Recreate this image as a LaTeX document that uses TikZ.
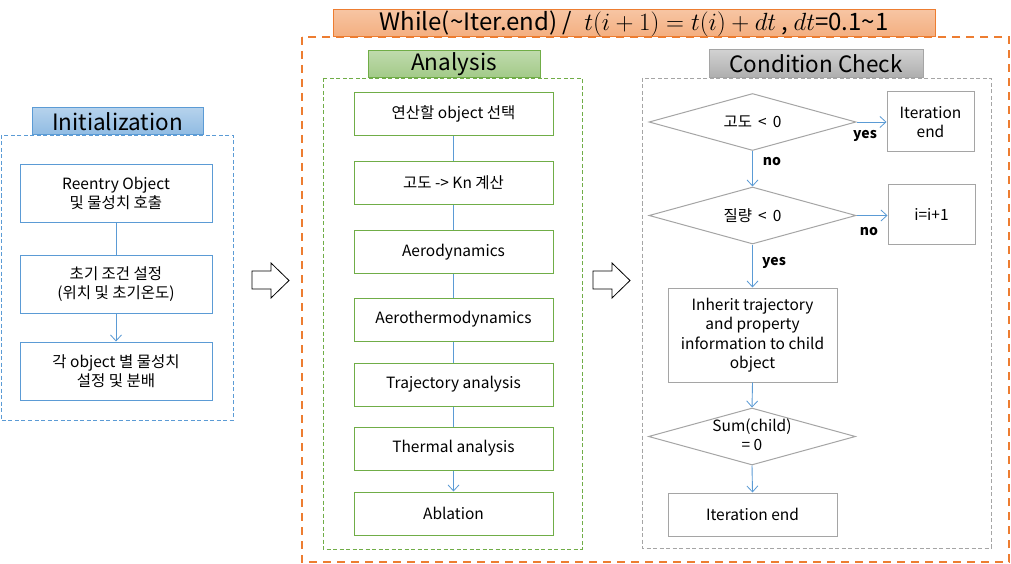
\documentclass[tikz,border=0pt]{standalone}
\usepackage{fontspec}
\setmainfont{Noto Sans CJK KR}
\usetikzlibrary{shapes.geometric,arrows.meta}
\definecolor{cblue}{HTML}{5B9BD5}
\definecolor{cgreen}{HTML}{70AD47}
\definecolor{cgray}{HTML}{A5A5A5}
\definecolor{corange}{HTML}{ED7D31}
\tikzset{
  conn/.style={draw=cblue, line width=0.9pt},
  arr/.style={conn, -{Straight Barb[length=6pt,width=11pt,line width=0.8pt]}},
  txt/.style={font=\fontsize{15.5}{19.5}\selectfont, align=center, text=black},
  ibox/.style={txt, draw=cblue, line width=1pt, fill=white, inner sep=0pt},
  abox/.style={txt, draw=cgreen, line width=1pt, fill=white, inner sep=0pt, minimum width=199pt, minimum height=43pt},
  cbox/.style={txt, draw=cgray, line width=1pt, fill=white, inner sep=0pt},
  dia/.style={draw=cgray, line width=1pt, shape=diamond, fill=white, inner sep=0pt, minimum width=207pt, minimum height=57pt},
  ttl/.style={font=\fontsize{22.5}{26}\selectfont, inner sep=0pt, text=black},
  lab/.style={font=\fontsize{14}{16}\selectfont\bfseries, text=black},
  frm/.style={line width=0.9pt, dash pattern=on 4pt off 2.5pt},
  blockarrow/.style={draw=black, line width=0.8pt, fill=white}
}
\begin{document}
\begin{tikzpicture}[x=1pt,y=-1pt]
\useasboundingbox (0,0) rectangle (1011,564);
\fill[white] (0,0) rectangle (1011,564);

% outer loop frame
\draw[corange, line width=2.5pt, dash pattern=on 8pt off 6pt] (302,37) rectangle (1009,562);
\node[ttl, font=\fontsize{24}{26}\selectfont, draw=corange, line width=1pt, top color=corange!45, bottom color=corange!62, minimum width=602pt, minimum height=27pt] (wt) at (634,23.5)
  {While(\textasciitilde Iter.end) /\enspace $t(i+1)=t(i)+dt$ , $dt$=0.1\textasciitilde1};

% Initialization
\draw[cblue, frm] (1,135) rectangle (233,420);
\node[ttl, draw=cblue, line width=1pt, top color=cblue!45, bottom color=cblue!68, minimum width=171pt, minimum height=27pt] (it) at (117.5,121.5) {Initialization};
\node[ibox, minimum width=192pt, minimum height=57pt] (i1) at (116,193.5) {Reentry Object\\및 물성치 호출};
\node[ibox, minimum width=192pt, minimum height=58pt] (i2) at (116,284) {초기 조건 설정\\(위치 및 초기온도)};
\node[ibox, minimum width=192pt, minimum height=58pt] (i3) at (116,371) {각 object 별 물성치\\설정 및 분배};
\draw[conn] (i1) -- (i2);
\draw[arr] (i2) -- (i3);

% block arrows
\draw[blockarrow] (252,271) -- (271,271) -- (271,263) -- (289,280.5) -- (271,298) -- (271,289) -- (252,289) -- cycle;
\draw[blockarrow] (593,271) -- (612,271) -- (612,263) -- (630,280.5) -- (612,298) -- (612,289) -- (593,289) -- cycle;

% Analysis
\draw[cgreen, frm] (323,78) rectangle (582,549);
\node[ttl, draw=cgreen, line width=1pt, top color=cgreen!45, bottom color=cgreen!65, minimum width=172pt, minimum height=27pt] (at) at (454,64.5) {Analysis};
\node[abox] (a1) at (453.5,114) {연산할 object 선택};
\node[abox] (a2) at (453.5,183) {고도 -> Kn 계산};
\node[abox] (a3) at (453.5,252) {Aerodynamics};
\node[abox] (a4) at (453.5,319.5) {Aerothermodynamics};
\node[abox] (a5) at (453.5,384.5) {Trajectory analysis};
\node[abox] (a6) at (453.5,448.5) {Thermal analysis};
\node[abox] (a7) at (453.5,513.5) {Ablation};
\draw[conn] (a1) -- (a2);
\draw[conn] (a2) -- (a3);
\draw[conn] (a3) -- (a4);
\draw[conn] (a4) -- (a5);
\draw[conn] (a5) -- (a6);
\draw[arr] (a6) -- (a7);

% Condition Check
\draw[cgray, frm] (642,78) rectangle (991,548);
\node[ttl, draw=cgray, line width=1pt, top color=black!18, bottom color=black!32, minimum width=214pt, minimum height=28pt] (ct) at (816,64) {Condition Check};
\node[dia] (d1) at (752.5,122) {};
\node[txt] (d1t) at (d1) {고도 \,<\, 0};
\node[cbox, minimum width=87pt, minimum height=60pt] (e1) at (930.5,122) {Iteration\\end};
\node[dia] (d2) at (752.5,215.5) {};
\node[txt] (d2t) at (d2) {질량 \,<\, 0};
\node[cbox, minimum width=87pt, minimum height=59pt] (inc) at (931.5,214.5) {i=i+1};
\node[cbox, minimum width=169pt, minimum height=94pt] (inh) at (752.5,335) {Inherit trajectory\\and property\\information to child\\object};
\node[dia] (d3) at (752,436.5) {};
\node[txt] (d3t) at (752,435) {Sum(child)\\= 0};
\node[cbox, minimum width=169pt, minimum height=43pt] (e2) at (752.5,514.5) {Iteration end};
\draw[arr] (d1.east) -- (d1.east -| e1.west);
\draw[arr] (d1.south) -- (d2.north);
\draw[arr] (d2.east) -- (d2.east -| inc.west);
\draw[arr] (d2.south) -- (inh.north);
\draw[arr] (inh.south) -- (d3.north);
\draw[arr] (d3.south) -- (e2.north);
\node[lab] (ly1) at (865,136) {yes};
\node[lab] (ln1) at (772,162) {no};
\node[lab] (ln2) at (869,232) {no};
\node[lab] (ly2) at (774,263) {yes};
\end{tikzpicture}
\end{document}
